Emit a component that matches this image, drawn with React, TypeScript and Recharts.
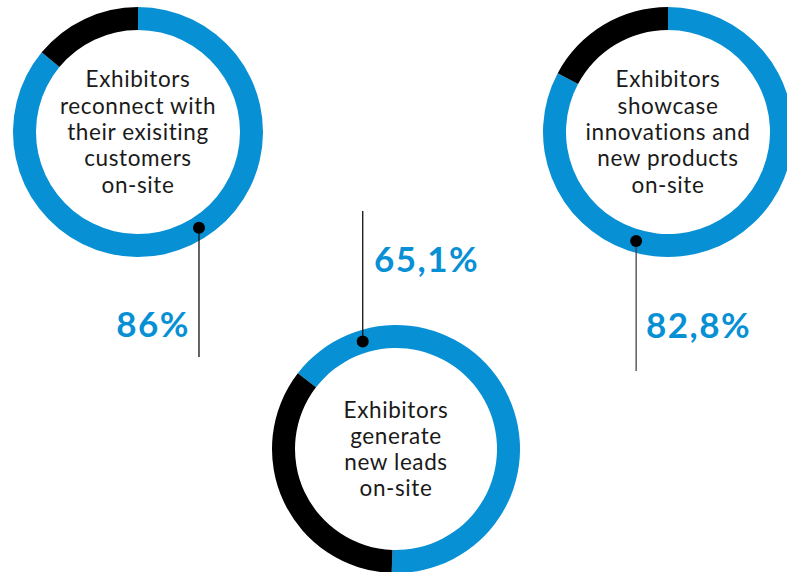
import { Cell, Pie, PieChart } from 'recharts'

// share of exhibitors per statement (%)
const statements = [
  ['Exhibitors', 'reconnect with', 'their exisiting', 'customers', 'on-site'],
  ['Exhibitors', 'generate', 'new leads', 'on-site'],
  ['Exhibitors', 'showcase', 'innovations and', 'new products', 'on-site'],
]
const shares = [86, 65.1, 82.8]
const shareLabels = ['86%', '65,1%', '82,8%']

const BLUE = '#0890d5'
const BLACK = '#000000'
const FONT = 'Lato, "Open Sans", sans-serif'
const W = 787
const H = 572

// layout of each donut + its callout line
const donuts = [
  { cx: 138, cy: 132, r: 125, start: 90, end: -270, dotAngle: -57.5, lineTo: 357, label: { x: 190, y: 337, anchor: 'end' }, lineColor: '#111' },
  { cx: 396, cy: 449, r: 124, start: -92, end: 268, dotAngle: 107.2, lineTo: 211, label: { x: 374, y: 272, anchor: 'start' }, lineColor: '#111' },
  { cx: 668, cy: 132, r: 125, start: 90, end: -270, dotAngle: -106.3, lineTo: 371, label: { x: 646, y: 338, anchor: 'start' }, lineColor: '#444' },
]
const RING = 23

function polar(cx: number, cy: number, r: number, deg: number) {
  const a = (deg * Math.PI) / 180
  return { x: cx + r * Math.cos(a), y: cy - r * Math.sin(a) }
}

/** callout lines, dots and texts, drawn over the pies */
function Annotations() {
  return (
    <svg width={W} height={H} style={{ position: 'absolute', left: 0, top: 0, pointerEvents: 'none' }}>
      {donuts.map((d, i) => {
        const dot = polar(d.cx, d.cy, d.r - RING / 2, d.dotAngle)
        const lines = statements[i]
        const lh = 26.3
        return (
          <g key={i}>
            <line x1={dot.x} y1={dot.y} x2={dot.x} y2={d.lineTo} stroke={d.lineColor} strokeWidth={1.3} />
            <circle cx={dot.x} cy={dot.y} r={6} fill="#000" />
            <text
              x={d.label.x}
              y={d.label.y}
              textAnchor={d.label.anchor as 'start' | 'end'}
              fill={BLUE}
              fontFamily={FONT}
              fontWeight={700}
              fontSize={35}
              letterSpacing={1.5}
            >
              {shareLabels[i]}
            </text>
            <text textAnchor="middle" fill="#1a1a1a" fontFamily={FONT} fontSize={22.5} letterSpacing={0.6}>
              {lines.map((t, j) => (
                <tspan key={j} x={d.cx} y={d.cy + 8 + (j - (lines.length - 1) / 2) * lh}>
                  {t}
                </tspan>
              ))}
            </text>
          </g>
        )
      })}
    </svg>
  )
}

export default function App() {
  return (
    <div style={{ position: 'absolute', left: 0, top: 0, width: W, height: H, background: '#fff' }}>
      <PieChart width={W} height={H} margin={{ top: 0, right: 0, bottom: 0, left: 0 }}>
        {donuts.map((d, i) => (
          <Pie
            key={i}
            data={[
              { name: 'yes', value: shares[i] },
              { name: 'no', value: 100 - shares[i] },
            ]}
            dataKey="value"
            cx={d.cx}
            cy={d.cy}
            innerRadius={d.r - RING}
            outerRadius={d.r}
            startAngle={d.start}
            endAngle={d.end}
            stroke="none"
            isAnimationActive={false}
          >
            <Cell fill={BLUE} />
            <Cell fill={BLACK} />
          </Pie>
        ))}
      </PieChart>
      <Annotations />
    </div>
  )
}
